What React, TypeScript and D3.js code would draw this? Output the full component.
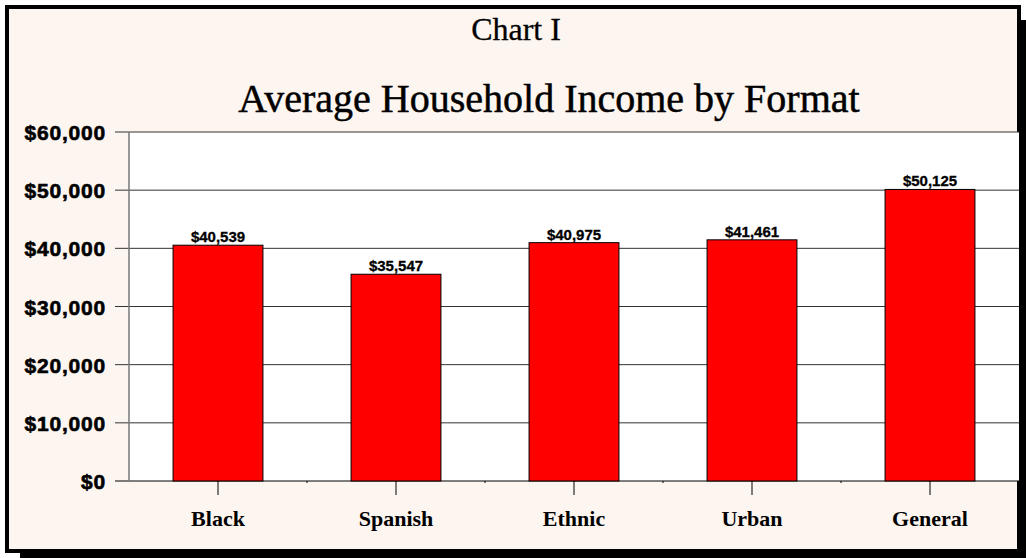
import React from "react";
import * as d3 from "d3";

const categories = ["Black", "Spanish", "Ethnic", "Urban", "General"];
const incomes = [40539, 35547, 40975, 41461, 50125];
const yTicks = [0, 10000, 20000, 30000, 40000, 50000, 60000];
const chartLabel = "Chart I";
const chartTitle = "Average Household Income by Format";

const W = 1026;
const H = 558;
const plot = { left: 129, right: 1019, top: 132, bottom: 481 };

export default function App() {
  const x = d3
    .scaleBand<string>()
    .domain(categories)
    .range([plot.left, plot.right])
    .paddingInner(0.495)
    .paddingOuter(0.2475);
  const y = d3.scaleLinear().domain([0, 60000]).range([plot.bottom, plot.top]);
  const fmt = (v: number) => "$" + d3.format(",")(v);
  const step = x.step();
  const bandStart = (i: number) => plot.left + i * step;

  return (
    <svg
      width={W}
      height={H}
      style={{ position: "absolute", left: 0, top: 0, display: "block" }}
    >
      <rect x={20} y={20} width={W} height={H} fill="#000" />
      <rect x={7} y={7} width={1012} height={544} fill="#fdf5f0" stroke="#000" strokeWidth={4} />
      <text
        x={516}
        y={40}
        textAnchor="middle"
        fontFamily="'Liberation Serif', 'Times New Roman', serif"
        fontSize={32}
        fill="#000"
        stroke="#000"
        strokeWidth={0.3}
      >
        {chartLabel}
      </text>
      <text
        x={549}
        y={112}
        textAnchor="middle"
        fontFamily="'Liberation Serif', 'Times New Roman', serif"
        fontSize={40}
        fill="#000"
        stroke="#000"
        strokeWidth={0.5}
      >
        {chartTitle}
      </text>
      <rect
        x={plot.left}
        y={plot.top}
        width={plot.right - plot.left}
        height={plot.bottom - plot.top}
        fill="#fff"
      />
      {yTicks.map((t) => (
        <g key={t}>
          <line
            x1={115}
            x2={plot.right}
            y1={y(t)}
            y2={y(t)}
            stroke={t === 0 ? "#000" : "#333"}
            strokeWidth={1}
          />
          <text
            x={106}
            y={y(t) + 8}
            textAnchor="end"
            fontFamily="'Liberation Sans', Arial, sans-serif"
            fontWeight="bold"
            fontSize={21}
            letterSpacing={0.8}
            fill="#000"
            stroke="#000"
            strokeWidth={0.6}
          >
            {fmt(t)}
          </text>
        </g>
      ))}
      <line x1={plot.left} x2={plot.left} y1={plot.top} y2={plot.bottom} stroke="#777" strokeWidth={1.5} />
      {categories.map((c, i) => (
        <g key={c}>
          <rect
            x={x(c)}
            y={y(incomes[i])}
            width={x.bandwidth()}
            height={plot.bottom - y(incomes[i])}
            fill="#ff0000"
            stroke="#000"
            strokeWidth={1}
          />
          <text
            x={(x(c) as number) + x.bandwidth() / 2}
            y={y(incomes[i]) - 3}
            textAnchor="middle"
            fontFamily="'Liberation Sans', Arial, sans-serif"
            fontWeight="bold"
            fontSize={15}
            fill="#000"
            stroke="#000"
            strokeWidth={0.3}
          >
            {fmt(incomes[i])}
          </text>
          <line
            x1={(x(c) as number) + x.bandwidth() / 2}
            x2={(x(c) as number) + x.bandwidth() / 2}
            y1={plot.bottom}
            y2={plot.bottom + 14}
            stroke="#000"
          />
          {i > 0 && (
            <line
              x1={bandStart(i)}
              x2={bandStart(i)}
              y1={plot.bottom}
              y2={plot.bottom + 2}
              stroke="#000"
            />
          )}
          <text
            x={(x(c) as number) + x.bandwidth() / 2}
            y={526}
            textAnchor="middle"
            fontFamily="'Liberation Serif', 'Times New Roman', serif"
            fontWeight="bold"
            fontSize={22}
            fill="#000"
          >
            {c}
          </text>
        </g>
      ))}
    </svg>
  );
}
